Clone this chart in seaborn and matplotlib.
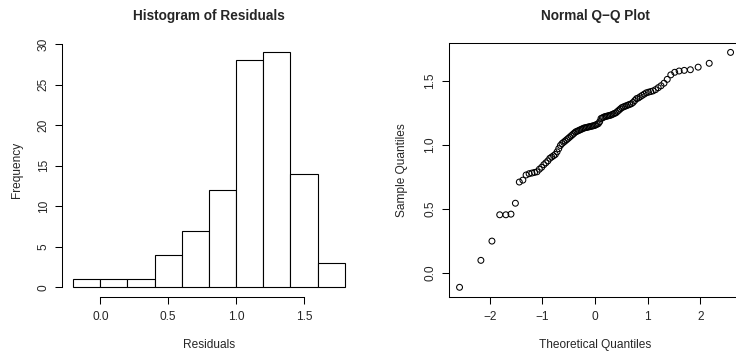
import numpy as np
import pandas as pd
import seaborn as sns
import matplotlib
matplotlib.use("Agg")
import matplotlib.pyplot as plt
from statistics import NormalDist

# sorted residuals (100 values)
residuals = [
    -0.11, 0.10, 0.25, 0.455, 0.455, 0.46, 0.545, 0.71, 0.725, 0.765,
    0.775, 0.78, 0.785, 0.79, 0.81, 0.825, 0.845, 0.86, 0.875, 0.895,
    0.905, 0.915, 0.925, 0.945, 0.97, 0.995, 1.01, 1.02, 1.03, 1.04,
    1.05, 1.06, 1.07, 1.08, 1.09, 1.10, 1.105, 1.11, 1.115, 1.12,
    1.125, 1.13, 1.133, 1.135, 1.138, 1.14, 1.143, 1.145, 1.148, 1.15,
    1.155, 1.16, 1.165, 1.18, 1.205, 1.21, 1.215, 1.22, 1.222, 1.225,
    1.228, 1.23, 1.235, 1.24, 1.245, 1.25, 1.26, 1.27, 1.28, 1.29,
    1.295, 1.30, 1.305, 1.31, 1.315, 1.32, 1.33, 1.345, 1.36, 1.365,
    1.375, 1.385, 1.395, 1.405, 1.41, 1.415, 1.42, 1.43, 1.445, 1.46,
    1.48, 1.51, 1.545, 1.565, 1.575, 1.58, 1.585, 1.605, 1.635, 1.72,
]
bin_edges = [-0.2, 0.0, 0.2, 0.4, 0.6, 0.8, 1.0, 1.2, 1.4, 1.6, 1.8]
hist_xticks = [0.0, 0.5, 1.0, 1.5]
hist_yticks = [0, 5, 10, 15, 20, 25, 30]
qq_xticks = [-2, -1, 0, 1, 2]
qq_yticks = [0.0, 0.5, 1.0, 1.5]

# theoretical quantiles like R's qqnorm: ppoints(n) = (i - 0.5) / n
n = len(residuals)
theo = [NormalDist().inv_cdf((i + 0.5) / n) for i in range(n)]
df = pd.DataFrame({"theo": theo, "resid": residuals})

sns.set_theme(style="white")
plt.rcParams["font.family"] = ["Liberation Sans", "DejaVu Sans"]
plt.rcParams["axes.edgecolor"] = "black"
plt.rcParams["axes.linewidth"] = 0.75

W, H = 736, 351
fig = plt.figure(figsize=(W / 100, H / 100), dpi=100)
ax1 = fig.add_axes([62.3 / W, 1 - 296.7 / H, 293.4 / W, 253.7 / H])
ax2 = fig.add_axes([448.7 / W, 1 - 296.7 / H, 292.7 / W, 253.7 / H])

tick_fs = 8.6
label_fs = 8.6
title_fs = 9.8


def r_pad(lo, hi):
    d = 0.04 * (hi - lo)
    return lo - d, hi + d


# --- histogram ---
sns.histplot(x=df["resid"], bins=bin_edges, stat="count", color="white",
             edgecolor="black", linewidth=0.8, alpha=1, ax=ax1)
ax1.set_xlim(*r_pad(bin_edges[0], bin_edges[-1]))
ax1.set_ylim(*r_pad(0, 29))
for s in ["top", "right"]:
    ax1.spines[s].set_visible(False)
ax1.spines["left"].set_bounds(hist_yticks[0], hist_yticks[-1])
ax1.spines["bottom"].set_bounds(hist_xticks[0], hist_xticks[-1])
ax1.set_xticks(hist_xticks)
ax1.set_xticklabels([f"{v:.1f}" for v in hist_xticks])
ax1.set_yticks(hist_yticks)
ax1.set_yticklabels([str(v) for v in hist_yticks])
ax1.set_title("Histogram of Residuals", fontsize=title_fs, fontweight="bold", pad=16.5)
ax1.set_xlabel("Residuals", fontsize=label_fs)
ax1.set_ylabel("Frequency", fontsize=label_fs)
ax1.xaxis.set_label_coords(0.5, -0.19)
ax1.yaxis.set_label_coords(-0.155, 0.5)

# --- normal Q-Q plot ---
sns.scatterplot(data=df, x="theo", y="resid", marker="o", s=18,
                facecolor="none", edgecolor="black", linewidth=0.75, ax=ax2)
ax2.set_xlim(*r_pad(min(theo), max(theo)))
ax2.set_ylim(*r_pad(min(residuals), max(residuals)))
ax2.set_xticks(qq_xticks)
ax2.set_xticklabels([("\u2212" + str(-v)) if v < 0 else str(v) for v in qq_xticks])
ax2.set_yticks(qq_yticks)
ax2.set_yticklabels([f"{v:.1f}" for v in qq_yticks])
ax2.set_title("Normal Q\u2212Q Plot", fontsize=title_fs, fontweight="bold", pad=16.5)
ax2.set_xlabel("Theoretical Quantiles", fontsize=label_fs)
ax2.set_ylabel("Sample Quantiles", fontsize=label_fs)
ax2.xaxis.set_label_coords(0.5, -0.19)
ax2.yaxis.set_label_coords(-0.16, 0.5)

for ax in (ax1, ax2):
    ax.tick_params(axis="both", which="both", direction="out", length=5, width=0.75,
                   color="black", labelsize=tick_fs, pad=4, bottom=True, left=True)
    ax.tick_params(axis="x", pad=5.5)
    ax.tick_params(axis="y", labelrotation=90)
    for t in ax.get_yticklabels():
        t.set_va("center")
    ax.xaxis.label.set_va("center")
    ax.yaxis.label.set_va("center")
    ax.grid(False)

fig.savefig("out.png", dpi=100, facecolor="white")
